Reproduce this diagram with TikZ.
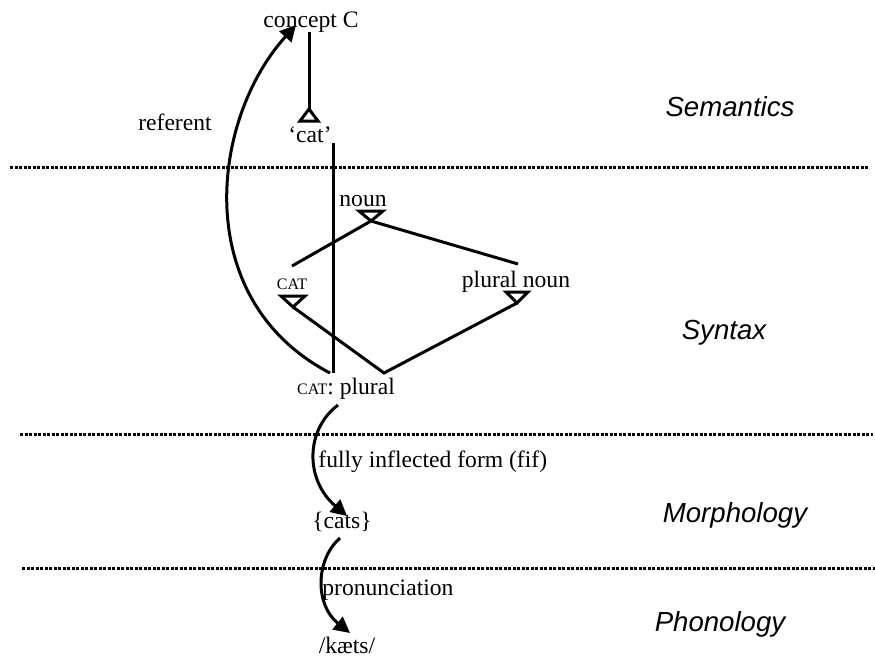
\documentclass[tikz,border=0pt]{standalone}
\usepackage{fontspec}
\setmainfont{Liberation Serif}
\newfontfamily\lsans{Liberation Sans}
\usetikzlibrary{arrows.meta}
\begin{document}
\begin{tikzpicture}[x=0.5pt,y=-0.5pt,
  lbl/.style={font=\fontsize{11.8}{14}\selectfont, inner sep=0pt, anchor=base},
  level/.style={font=\lsans\itshape\fontsize{13.8}{16}\selectfont, inner sep=0pt},
  ln/.style={line width=1.5pt},
  sep/.style={line width=1.5pt, dash pattern=on 1.5pt off 0.75pt},
  arr/.style={line width=1.5pt, -{Triangle[length=8pt,width=8pt]}},
  tri/.style={line width=1.5pt, line join=miter}]
\useasboundingbox (0,0) rectangle (875,659);

% separators
\draw[sep] (10,167) -- (868,167);
\draw[sep] (20,434) -- (873,434);
\draw[sep] (22,568) -- (875,568);

% level labels
\node[level] (sem) at (730,107) {Semantics};
\node[level] (syn) at (724,333) {Syntax};
\node[level] (mor) at (735,515) {Morphology};
\node[level] (pho) at (720,624) {Phonology};

% text nodes
\node[lbl] (concept) at (311,27) {concept C};
\node[lbl] (catsem) at (310,142) {‘cat’};
\node[lbl] (noun) at (363,206) {noun};
\node[lbl] (pnoun) at (516,287) {plural noun};
\node[lbl] (cat) at (292,289) {\fontsize{8}{9}\selectfont CAT};
\node[lbl] (catpl) at (346,394) {{\fontsize{8}{9}\selectfont CAT}: plural};
\node[lbl] (cats) at (342,528) {\{cats\}};
\node[lbl] (kaets) at (347,653) {/kæts/};
\node[lbl] (ref) at (175,130) {referent};
\node[lbl, anchor=base west] (fif) at (318,467) {fully inflected form (fif)};
\node[lbl, anchor=base west] (pron) at (322,595) {pronunciation};

% coordinates
\coordinate (tcat) at (309,109);
\coordinate (tnoun) at (371,221);
\coordinate (tCAT) at (293,307);
\coordinate (tpn) at (517,303);
\coordinate (nl) at (292,266);
\coordinate (nr) at (518,264);
\coordinate (join) at (384,373);
\coordinate (vtop) at (333,143);
\coordinate (vbot) at (333,373);
\coordinate (refstart) at (330,373);
\coordinate (reftip) at (296,25);
\coordinate (fifs) at (338,405);
\coordinate (fife) at (347,516);
\coordinate (prons) at (340,538);
\coordinate (prone) at (350,633);

% semantics
\draw[ln] (concept.south -| tcat) -- (tcat);
\draw[tri] (tcat) -- ++(9,12) -- ++(-18,0) -- cycle;

% syntax
\draw[tri] (tnoun) -- ++(-12,-10) -- ++(24,0) -- cycle;
\draw[tri] (tCAT) -- ++(-12,-11) -- ++(24,0) -- cycle;
\draw[tri] (tpn) -- ++(-11,-11) -- ++(22,0) -- cycle;
\draw[ln] (nl) -- (tnoun) -- (nr);
\draw[ln] (tCAT) -- (join) -- (tpn);
\draw[ln] (vtop) -- (vbot);

% arrows
\draw[arr] (refstart) .. controls (190,300) and (210,120) .. (reftip);
\draw[arr] (fifs) .. controls (305,430) and (305,480) .. (fife);
\draw[arr] (prons) .. controls (315,560) and (315,605) .. (prone);
\end{tikzpicture}
\end{document}
